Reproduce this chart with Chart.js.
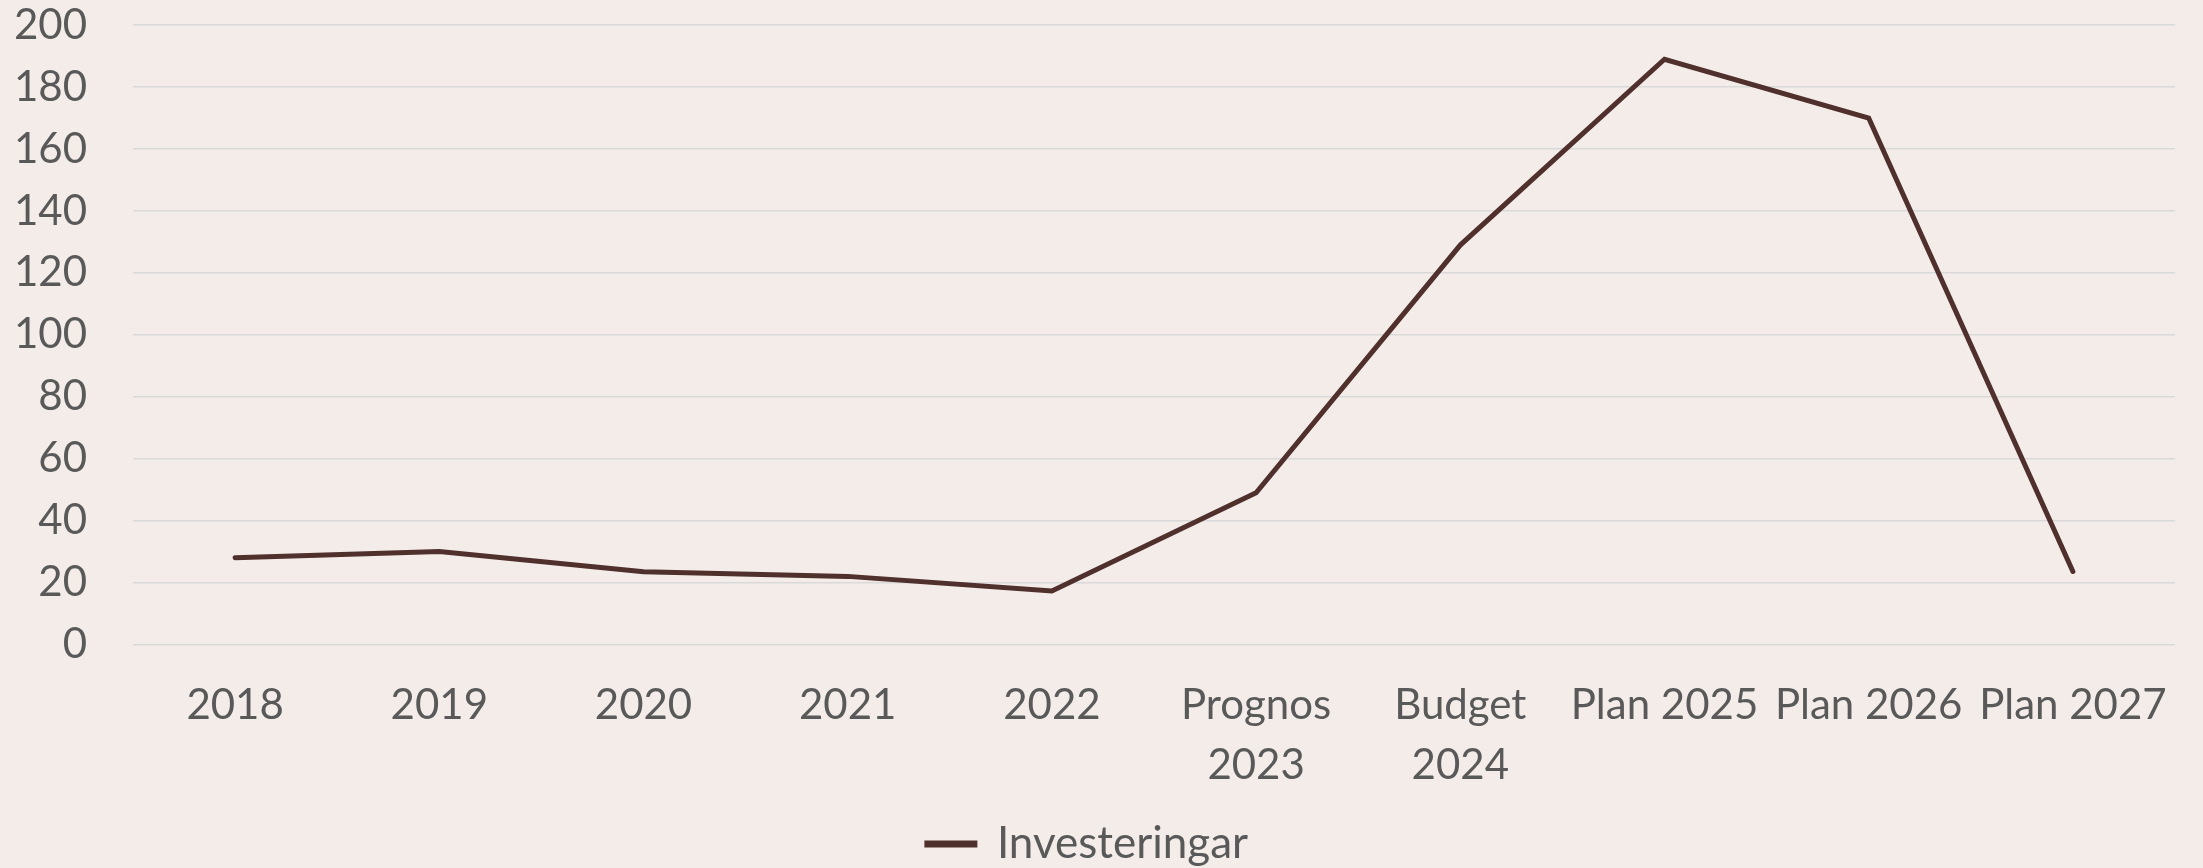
<!DOCTYPE html>
<html>
<head>
<meta charset="utf-8">
<script src="https://cdn.jsdelivr.net/npm/chart.js@4.4.0/dist/chart.umd.min.js"></script>
<style>
  html, body { margin: 0; padding: 0; background: #F3ECE9; }
  #wrap { width: 2203px; height: 868px; position: relative; }
</style>
</head>
<body>
<div id="wrap"><canvas id="line-chart"></canvas></div>
<script>
// category labels (multi-line where the original wraps)
const categories = ['2018', '2019', '2020', '2021', '2022', ['Prognos', '2023'], ['Budget', '2024'], 'Plan 2025', 'Plan 2026', 'Plan 2027'];
// Investeringar
const investeringar = [28, 30, 23.5, 22, 17.3, 49, 129, 189, 170, 23.6];
const yTicks = [0, 20, 40, 60, 80, 100, 120, 140, 160, 180, 200];

const textColor = '#595959';
const lineColor = '#4F302C';

document.addEventListener('DOMContentLoaded', function () {
    const ctx = document.getElementById('line-chart').getContext('2d');

    new Chart(ctx, {
        type: 'line',
        data: {
            labels: categories,
            datasets: [{
                label: 'Investeringar',
                data: investeringar,
                borderColor: lineColor,
                backgroundColor: lineColor,
                borderWidth: 5,
                borderCapStyle: 'round',
                pointRadius: 0,
                tension: 0
            }]
        },
        options: {
            responsive: true,
            maintainAspectRatio: false,
            animation: false,
            layout: { padding: { left: 0, right: 28, top: 0, bottom: -8 } },
            plugins: {
                tooltip: { enabled: false },
                legend: {
                    position: 'bottom',
                    labels: {
                        color: textColor,
                        font: { family: 'Lato', size: 44 },
                        boxWidth: 48,
                        boxHeight: 2,
                        padding: 0
                    }
                }
            },
            scales: {
                x: {
                    offset: true,
                    // fixed height so the plot bottom sits where the original has it
                    afterFit: function (scale) { scale.height = 177.5; },
                    grid: { display: false, drawTicks: false },
                    border: { display: false },
                    ticks: {
                        color: textColor,
                        font: { family: 'Lato', size: 42, lineHeight: 1.43 },
                        padding: 31,
                        maxRotation: 0,
                        autoSkip: false
                    }
                },
                y: {
                    min: 0,
                    max: 200,
                    afterFit: function (scale) { scale.width = 133; },
                    afterBuildTicks: function (scale) {
                        scale.ticks = yTicks.map(v => ({ value: v }));
                    },
                    grid: {
                        color: '#D9D9D9',
                        lineWidth: 1.5,
                        drawTicks: true,
                        tickLength: 46,
                        tickColor: 'rgba(0,0,0,0)'
                    },
                    border: { display: false },
                    ticks: {
                        color: textColor,
                        font: { family: 'Lato', size: 42 },
                        padding: 0
                    }
                }
            }
        }
    });
});
</script>
</body>
</html>
